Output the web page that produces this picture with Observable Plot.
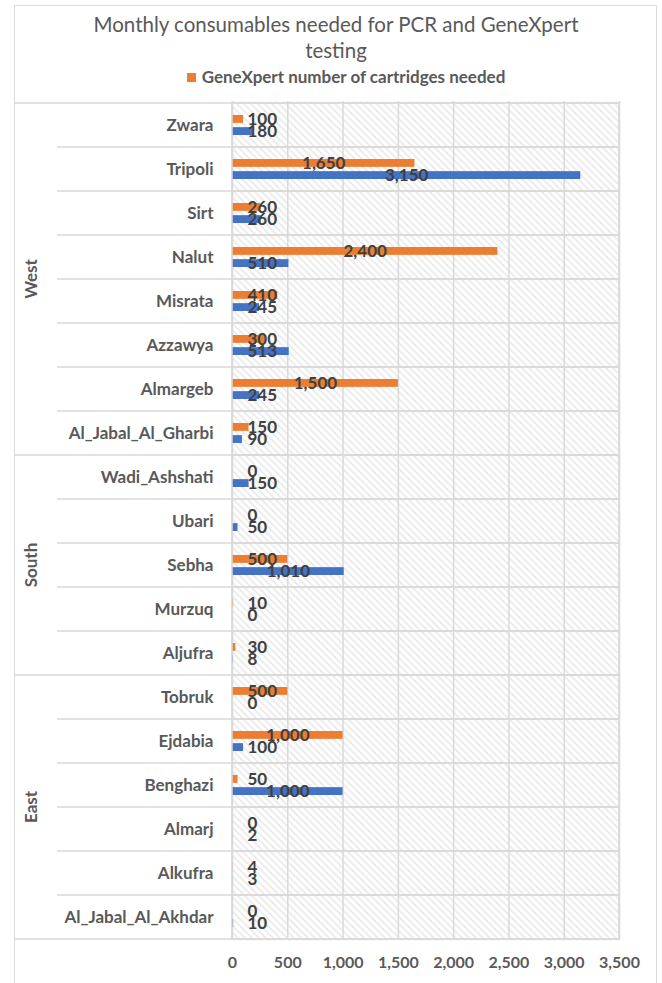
<!DOCTYPE html>
<html><head><meta charset="utf-8">
<script src="https://cdn.jsdelivr.net/npm/d3@7"></script>
<script src="https://cdn.jsdelivr.net/npm/@observablehq/plot@0.6"></script>
<style>
body{margin:0;background:#fff;}
#wrap{position:relative;width:662px;height:983px;overflow:hidden;font-family:Lato,sans-serif;}
#border{position:absolute;left:14px;top:5px;width:643px;height:1000px;border:1.5px solid #d9d9d9;box-sizing:border-box;}
#title{position:absolute;left:15px;width:642px;top:11px;text-align:center;color:#595959;font-size:20.5px;line-height:26px;}
#legend{position:absolute;left:25px;width:642px;top:66px;text-align:center;color:#595959;font-size:17px;font-weight:bold;line-height:22px;}
#legend .sw{display:inline-block;width:9px;height:9px;background:#ED7D31;margin-right:6px;vertical-align:1px;}
#chart{position:absolute;left:0;top:0;}
</style></head>
<body>
<div id="wrap">
  <div id="border"></div>
  <div id="title">Monthly consumables needed for PCR and GeneXpert<br>testing</div>
  <div id="legend"><span class="sw"></span>GeneXpert number of cartridges needed</div>
  <div id="chart"></div>
</div>
<script>
const groups = ["West", "South", "East"];
const groupSizes = [8, 5, 6];
const regions = ["Zwara","Tripoli","Sirt","Nalut","Misrata","Azzawya","Almargeb","Al_Jabal_Al_Gharbi",
  "Wadi_Ashshati","Ubari","Sebha","Murzuq","Aljufra",
  "Tobruk","Ejdabia","Benghazi","Almarj","Alkufra","Al_Jabal_Al_Akhdar"];
const genexpert = [100,1650,260,2400,410,300,1500,150, 0,0,500,10,30, 500,1000,50,0,4,0];
const pcr       = [180,3150,260,510,245,513,245,90, 150,50,1010,0,8, 0,100,1000,2,3,10];
const xTicks = [0,500,1000,1500,2000,2500,3000,3500];

const ORANGE = "#ED7D31", BLUE = "#4472C4", GRID = "#d9d9d9";
const W = 662, H = 983, ML = 232, MR = 43, MT = 101, MB = 43;
const bh = (H - MT - MB) / regions.length;
const kpx = (W - ML - MR) / 3500;
const fmt = d3.format(",");

const rows = regions.map((r, i) => ({region: r, gx: genexpert[i], pcr: pcr[i]}));

const ctx = document.createElement("canvas").getContext("2d");
ctx.font = "bold 17px Lato";
const fits = v => kpx * v / 2 - ctx.measureText(fmt(v)).width / 2 >= 15;

const labelStyle = {fill: "#404040", fontWeight: "bold", fontSize: 17, lineAnchor: "middle"};
function labels(key, dy) {
  return [
    Plot.text(rows.filter(d => fits(d[key])), {x: d => d[key] / 2, y: "region", text: d => fmt(d[key]), dy, textAnchor: "middle", ...labelStyle}),
    Plot.text(rows.filter(d => !fits(d[key])), {x: 0, y: "region", text: d => fmt(d[key]), dy, dx: 15, textAnchor: "start", ...labelStyle})
  ];
}

const chart = Plot.plot({
  width: W, height: H,
  marginLeft: ML, marginRight: MR, marginTop: MT, marginBottom: MB,
  style: {fontFamily: "Lato, sans-serif", color: "#595959", background: "transparent"},
  x: {domain: [0, 3500]},
  y: {domain: regions, padding: 0},
  marks: [
    Plot.frame({fill: "url(#hatch)", stroke: null}),
    Plot.ruleX(xTicks, {stroke: GRID, strokeWidth: 1.5}),
    Plot.barX(regions, {y: d => d, x1: 0, x2: 3500, fill: "none", stroke: GRID, strokeWidth: 1.5}),
    Plot.barX(rows, {y: "region", x: "gx", fill: ORANGE, insetTop: 12, insetBottom: bh - 20}),
    Plot.barX(rows, {y: "region", x: "pcr", fill: BLUE, insetTop: bh - 20, insetBottom: 12}),
    ...labels("gx", -6),
    ...labels("pcr", 6),
    Plot.axisX({ticks: xTicks, tickFormat: fmt, tickSize: 0, tickPadding: 16, fontSize: 16, fontWeight: "bold", fill: "#595959", label: null}),
    Plot.axisY({tickSize: 0, tickPadding: 19, fontSize: 17, fontWeight: "bold", fill: "#595959", label: null})
  ]
});
document.getElementById("chart").appendChild(chart);

const svg = d3.select(chart);
const defs = svg.insert("defs", ":first-child");
const pat = defs.append("pattern").attr("id", "hatch").attr("patternUnits", "userSpaceOnUse")
  .attr("width", 7).attr("height", 7);
pat.append("path").attr("d", "M-1,-1L8,8M-1,6L1,8M6,-1L8,1")
  .attr("stroke", "#dcdcdc").attr("stroke-width", 1.1).attr("fill", "none");

const ys = chart.scale("y"), xs = chart.scale("x");
const x0 = xs.apply(0), x1 = xs.apply(3500);
const bw = ys.bandwidth;
const g = svg.append("g").attr("stroke", GRID).attr("stroke-width", 1.5);
let idx = 0;
const yTop = ys.apply(regions[0]);
g.append("line").attr("x1", 15).attr("x2", x1).attr("y1", yTop).attr("y2", yTop);
g.append("line").attr("x1", x0).attr("x2", x0).attr("y1", yTop).attr("y2", ys.apply(regions[regions.length - 1]) + bw);
groups.forEach((grp, gi) => {
  const first = regions[idx], last = regions[idx + groupSizes[gi] - 1];
  const top = ys.apply(first), bot = ys.apply(last) + bw;
  for (let k = 1; k < groupSizes[gi]; k++) {
    const yy = ys.apply(regions[idx + k]);
    g.append("line").attr("x1", 57).attr("x2", x0).attr("y1", yy).attr("y2", yy);
  }
  g.append("line").attr("x1", 15).attr("x2", x1).attr("y1", bot).attr("y2", bot);
  svg.append("text").attr("transform", `translate(30,${(top + bot) / 2}) rotate(-90)`)
    .attr("text-anchor", "middle").attr("dominant-baseline", "central")
    .attr("fill", "#595959").attr("font-weight", "bold").attr("font-size", 17).text(grp);
  idx += groupSizes[gi];
});
</script>
</body></html>
